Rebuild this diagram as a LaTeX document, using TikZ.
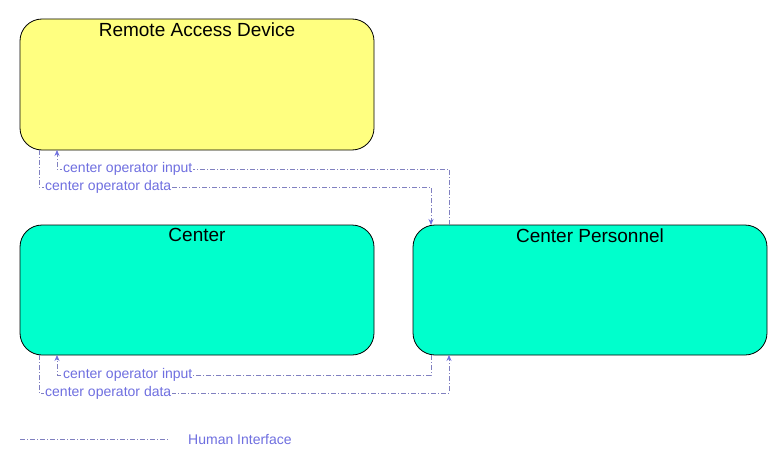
\documentclass[tikz,border=0pt]{standalone}
\usepackage{fontspec}
\setmainfont{Liberation Sans}
\usetikzlibrary{arrows.meta}
\definecolor{yel}{HTML}{FFFF80}
\definecolor{cya}{HTML}{00FFCC}
\definecolor{flow}{HTML}{8080C0}
\definecolor{lab}{HTML}{6F6FE0}
\tikzset{
 ent/.style={draw=black,rounded corners=22pt,line width=0.8pt},
 ttl/.style={font=\fontsize{19}{22}\selectfont,anchor=north},
 fl/.style={draw=flow,line width=0.7pt,dash pattern=on 5pt off 2pt on 1pt off 2pt,-{Stealth[length=6pt,width=5pt,fill=lab,color=lab]}},
 lbl/.style={font=\fontsize{14}{16}\selectfont,text=lab,fill=white,inner sep=1pt,anchor=west}
}
\begin{document}
\begin{tikzpicture}[x=1pt,y=-1pt]
\useasboundingbox (0,0) rectangle (783,468);
\draw[ent,fill=yel] (20,19) rectangle (374,150);
\draw[ent,fill=cya] (20,225) rectangle (374,355);
\draw[ent,fill=cya] (413,225) rectangle (767,355);
\node[ttl] (rad) at (197,19) {Remote Access Device};
\node[ttl] (c) at (197,225) {Center};
\node[ttl] (cp) at (590,225) {Center Personnel};
\coordinate (radb1) at (57,150); \coordinate (radb2) at (39,150);
\coordinate (cpt1) at (449,225); \coordinate (cpt2) at (431,225);
\coordinate (cb1) at (57,355); \coordinate (cb2) at (39,355);
\coordinate (cpb1) at (431,355); \coordinate (cpb2) at (449,355);
\draw[fl] (cpt1) |- (57,169) -- (radb1);
\draw[fl] (radb2) |- (431,187) -- (cpt2);
\draw[fl] (cpb1) |- (57,375) -- (cb1);
\draw[fl] (cb2) |- (449,393) -- (cpb2);
\node[lbl] (l1) at (62,169) {center operator input};
\node[lbl] (l2) at (44,187) {center operator data};
\node[lbl] (l3) at (62,375) {center operator input};
\node[lbl] (l4) at (44,393) {center operator data};
\coordinate (lg1) at (20,439); \coordinate (lg2) at (168,439);
\draw[draw=flow,line width=0.7pt,dash pattern=on 5pt off 2pt on 1pt off 2pt] (lg1) -- (lg2);
\node[lbl,anchor=west] (lg) at (187,439) {Human Interface};
\end{tikzpicture}
\end{document}
